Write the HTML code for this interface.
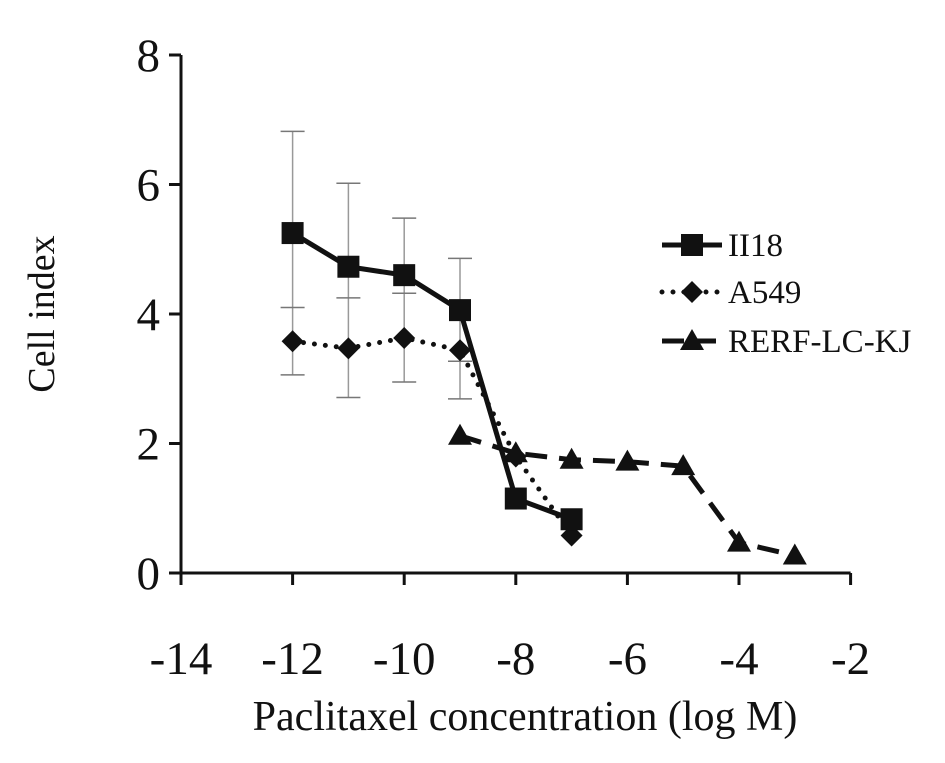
<!DOCTYPE html>
<html><head><meta charset="utf-8"><style>
body{margin:0;background:#fff}
svg text{font-family:"Liberation Serif",serif;fill:#111}
</style></head><body>
<svg width="945" height="758" viewBox="0 0 945 758" xmlns="http://www.w3.org/2000/svg" id="c"></svg>
<script>
const xTicks=[-14,-12,-10,-8,-6,-4,-2];
const yTicks=[0,2,4,6,8];
const xII18=[-12,-11,-10,-9,-8,-7];
const vII18=[5.25,4.73,4.6,4.06,1.15,0.83];
const xA549=[-12,-11,-10,-9,-8,-7];
const vA549=[3.58,3.47,3.63,3.44,1.8,0.58];
const xRERF=[-9,-8,-7,-6,-5,-4,-3];
const vRERF=[2.12,1.85,1.75,1.72,1.65,0.47,0.27];
const errX=[-12,-11,-10,-9];
const errTop=[6.82,6.02,5.48,4.86];
const errMid=[4.1,4.25,4.32,3.27];
const errBot=[3.06,2.71,2.95,2.69];
const sx=v=>181+(v+14)*55.8;
const sy=v=>573-v*64.75;
const svg=document.getElementById('c');
const NS='http://www.w3.org/2000/svg';
function mk(t,a,txt){const e=document.createElementNS(NS,t);for(const k in a)e.setAttribute(k,a[k]);if(txt!==undefined)e.textContent=txt;svg.appendChild(e);return e;}
errX.forEach((x,i)=>{
 const X=sx(x);
 let e=mk('line',{x1:X,x2:X,y1:sy(errTop[i]),y2:sy(errBot[i]),stroke:'#999','stroke-width':1.5});
 
 
 [errTop[i],errMid[i],errBot[i]].forEach(v=>{
  const c=mk('line',{x1:X-12,x2:X+12,y1:sy(v),y2:sy(v),stroke:'#777','stroke-width':1.5});
  
  
 });
});
let ax=mk('line',{x1:181,x2:181,y1:sy(8),y2:sy(0),stroke:'#111','stroke-width':3});


ax=mk('line',{x1:sx(-14),x2:sx(-2),y1:573,y2:573,stroke:'#111','stroke-width':3});


yTicks.forEach(v=>{
 mk('line',{x1:169,x2:181,y1:sy(v),y2:sy(v),stroke:'#111','stroke-width':3});
 const t=mk('text',{x:160,y:sy(v)+16,'text-anchor':'end','font-size':47},v);
 
 
});
xTicks.forEach(v=>{
 mk('line',{x1:sx(v),x2:sx(v),y1:573,y2:585,stroke:'#111','stroke-width':3});
 const t=mk('text',{x:sx(v),y:674,'text-anchor':'middle','font-size':47},v);
 
 
});
let t=mk('text',{x:525,y:730,'text-anchor':'middle','font-size':42},'Paclitaxel concentration (log M)');


t=mk('text',{x:0,y:0,'text-anchor':'middle','font-size':38,transform:'translate(54,314) rotate(-90)'},'Cell index');


function marker(kind,X,Y){
 let e;
 if(kind==='sq')e=mk('rect',{x:X-11,y:Y-11,width:22,height:22,fill:'#111'});
 else if(kind==='di')e=mk('polygon',{points:`${X},${Y-11} ${X+11},${Y} ${X},${Y+11} ${X-11},${Y}`,fill:'#111'});
 else e=mk('polygon',{points:`${X},${Y-12} ${X+12},${Y+9} ${X-12},${Y+9}`,fill:'#111'});
 return e;
}
function series(xs,vs,dash,kind,name){
 const p=mk('polyline',{points:xs.map((x,i)=>sx(x)+','+sy(vs[i])).join(' '),fill:'none',stroke:'#111','stroke-width':5,'stroke-dasharray':dash==='dot'?'0 11':dash==='dash'?'22 12':'none','stroke-linecap':dash==='dot'?'round':'butt'});
 
 
 xs.forEach((x,i)=>{const m=marker(kind,sx(x),sy(vs[i]));
  
  });
}
series(xRERF,vRERF,'dash','tr','rerf');
series(xA549,vA549,'dot','di','a549');
series(xII18,vII18,'solid','sq','ii18');
[['II18','solid','sq',245],['A549','dot','di',292],['RERF-LC-KJ','dash','tr',341]].forEach(l=>{
 const g=mk('line',{x1:662,x2:722,y1:l[3],y2:l[3],stroke:'#111','stroke-width':5,'stroke-dasharray':l[1]==='dot'?'0 11':l[1]==='dash'?'22 10':'none','stroke-linecap':l[1]==='dot'?'round':'butt'});
 
 
 const m=marker(l[2],692,l[3]);
 
 
 const tx=mk('text',{x:728,y:l[3]+11,'font-size':33},l[0]);
 
 
});
</script>
</body></html>
